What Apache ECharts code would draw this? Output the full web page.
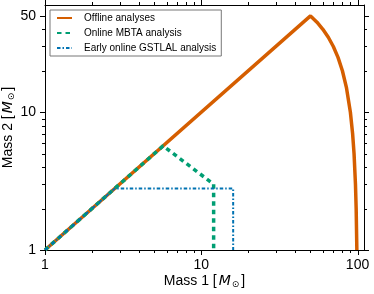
<!DOCTYPE html>
<html><head><meta charset="utf-8">
<script src="https://cdn.jsdelivr.net/npm/echarts@6/dist/echarts.min.js"></script>
<style>html,body{margin:0;padding:0;background:#fff}#c{width:374px;height:294px}</style>
</head><body><div id="c"></div>
<script>
const seriesNames = ['Offline analyses', 'Online MBTA analysis', 'Early online GSTLAL analysis'];
const offlineM1 = [1, 50, 55, 60, 65, 70, 75, 80, 85, 90, 93, 95, 97, 98, 99];
const offlineM2 = [1, 50, 45, 40, 35, 30, 25, 20, 15, 10, 7, 5, 3, 2, 1];
const mbtaM1 = [1, 5.7, 12, 12];
const mbtaM2 = [1, 5.7, 3, 1];
const gstlalM1 = [1, 2.8, 16, 16];
const gstlalM2 = [1, 2.8, 2.8, 1];
const xMajorTicks = [1, 10, 100];
const xMinorTicks = [2, 3, 4, 5, 6, 7, 8, 9, 20, 30, 40, 50, 60, 70, 80, 90];
const yMajorTicks = [1, 10, 50];
const yMinorTicks = [2, 3, 4, 5, 6, 7, 8, 9, 20, 30, 40];
const xRange = [1, 110];
const yRange = [1, 60];

const pair = (a, b) => a.map((v, i) => [v, b[i]]);
const font = 'Liberation Sans';
const black = '#000';
const MAJOR = 5, MINOR = 3;

// tick items: [x, y, side(0 bottom,1 top,2 left,3 right), length]
const tickData = [];
xMajorTicks.forEach(v => { tickData.push([v, yRange[0], 0, MAJOR]); tickData.push([v, yRange[1], 1, MAJOR]); });
xMinorTicks.forEach(v => { tickData.push([v, yRange[0], 0, MINOR]); tickData.push([v, yRange[1], 1, MINOR]); });
yMajorTicks.forEach(v => { tickData.push([xRange[0], v, 2, MAJOR]); tickData.push([xRange[1], v, 3, MAJOR]); });
yMinorTicks.forEach(v => { tickData.push([xRange[0], v, 2, MINOR]); tickData.push([xRange[1], v, 3, MINOR]); });

function axis(dim, pos, withLabel, name) {
  const range = dim === 'x' ? xRange : yRange;
  const a = {
    type: 'log', logBase: 10, min: range[0], max: range[1], position: pos,
    axisLine: { show: true, onZero: false, lineStyle: { color: black, width: 1 } },
    axisTick: { show: false },
    axisLabel: withLabel ? { show: true, customValues: dim === 'x' ? xMajorTicks : yMajorTicks, fontSize: 14, fontFamily: font, color: black, margin: dim === 'x' ? 8 : 9 } : { show: false },
    splitLine: { show: false }, minorTick: { show: false }
  };
  if (name) {
    a.name = name;
    a.nameLocation = 'middle';
    a.nameMoveOverlap = false;
    a.nameGap = dim === 'x' ? 23 : 29;
    a.nameTextStyle = {
      fontSize: 14, fontFamily: font, color: black,
      rich: {
        i: { fontSize: 14, fontStyle: 'italic', fontFamily: 'DejaVu Sans', color: black, padding: [0, 1, 0, 2] },
        s: { fontSize: 9, fontFamily: 'DejaVu Sans', color: black, padding: [7, 2, 0, 0] }
      }
    };
  }
  return a;
}

const chart = echarts.init(document.getElementById('c'), null, { renderer: 'canvas' });
chart.setOption({
  animation: false,
  backgroundColor: '#fff',
  grid: { left: 45, right: 10, top: 5, bottom: 44, containLabel: false, outerBoundsMode: 'none' },
  xAxis: [
    axis('x', 'bottom', true, 'Mass 1 [{i|M}{s|⊙}]'),
    axis('x', 'top', false)
  ],
  yAxis: [
    axis('y', 'left', true, 'Mass 2 [{i|M}{s|⊙}]'),
    axis('y', 'right', false)
  ],
  legend: {
    orient: 'vertical', left: 50, top: 10,
    data: seriesNames,
    itemWidth: 15, itemHeight: 10, itemGap: 5,
    padding: [3, 5, 3, 6],
    backgroundColor: '#fff', borderColor: '#777', borderWidth: 1, borderRadius: 0,
    itemStyle: { color: 'transparent', borderWidth: 0, opacity: 0 },
    textStyle: { fontSize: 10, fontFamily: font, color: black, padding: [0, 0, 0, 7] }
  },
  series: [
    { name: seriesNames[0], type: 'line', data: pair(offlineM1, offlineM2), symbol: 'none', xAxisIndex: 0, yAxisIndex: 0,
      color: '#D55E00', lineStyle: { color: '#D55E00', width: 3.5 } },
    { name: seriesNames[1], type: 'line', data: pair(mbtaM1, mbtaM2), symbol: 'none', xAxisIndex: 0, yAxisIndex: 0,
      color: '#009E73', lineStyle: { color: '#009E73', width: 3.5, type: [4.5, 4] } },
    { name: seriesNames[2], type: 'line', data: pair(gstlalM1, gstlalM2), symbol: 'none', xAxisIndex: 0, yAxisIndex: 0,
      color: '#0072B2', lineStyle: { color: '#0072B2', width: 2, type: [3.5, 2, 1.5, 2] } },
    { type: 'custom', data: tickData, xAxisIndex: 0, yAxisIndex: 0, silent: true, clip: false, z: 10,
      encode: { x: 0, y: 1 },
      renderItem: function (params, api) {
        const p = api.coord([api.value(0), api.value(1)]);
        const side = api.value(2), len = api.value(3);
        const d = [[0, len], [0, -len], [-len, 0], [len, 0]][side];
        const x0 = Math.round(p[0]) + (side < 2 ? 0.5 : 0), y0 = Math.round(p[1]) + (side < 2 ? 0 : 0.5);
        return { type: 'line', shape: { x1: x0, y1: y0, x2: x0 + d[0], y2: y0 + d[1] }, style: { stroke: black, lineWidth: 1 } };
      } }
  ]
});
</script></body></html>
